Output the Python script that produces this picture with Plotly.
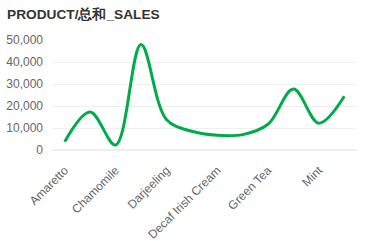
import plotly.graph_objects as go

categories = ["Amaretto", "Caffe Latte", "Chamomile", "Colombian", "Darjeeling",
              "Decaf Espresso", "Decaf Irish Cream", "Earl Grey", "Green Tea",
              "Lemon", "Mint", "Regular Espresso"]
sales = [3800, 17300, 2300, 47900, 13900, 8500, 6700, 7000, 11700, 27700, 12200, 24400]
y_ticks = [0, 10000, 20000, 30000, 40000, 50000]

fig = go.Figure(go.Scatter(
    x=categories, y=sales, mode="lines",
    line=dict(color="#00AB4A", width=3, shape="spline", smoothing=1.0),
    hoverinfo="x+y",
))

fig.update_layout(
    width=372, height=241,
    margin=dict(l=52, r=15, t=40, b=91, autoexpand=False),
    paper_bgcolor="white", plot_bgcolor="white",
    showlegend=False,
    title=dict(text="<b>PRODUCT/总和_SALES</b>", x=7 / 372, xref="container", xanchor="left",
               y=0.94, yref="container", yanchor="middle",
               font=dict(family="Liberation Sans, Arial", size=13.7, color="#333333"),
               pad=dict(l=0)),
    font=dict(family="Liberation Sans, Arial", size=12, color="#666666"),
)

fig.update_xaxes(
    type="category", categoryorder="array", categoryarray=categories,
    range=[-0.5, len(categories) - 0.5], automargin=False,
    tickmode="array", tickvals=categories[::2], ticktext=categories[::2],
    tickangle=-45, showgrid=False, showline=False, zeroline=False, ticks="",
    ticklabelstandoff=10,
    tickfont=dict(size=12, color="#666666"),
)
fig.update_yaxes(
    range=[0, 50000], tickmode="array", tickvals=y_ticks, automargin=False,
    ticktext=[f"{v:,}" for v in y_ticks],
    showgrid=True, gridcolor="#EFEFEF", gridwidth=1,
    zeroline=True, zerolinecolor="#EFEFEF", showline=False,
    ticks="", ticklabelstandoff=8,
    tickfont=dict(size=12, color="#666666"),
)

fig.write_html("out.html")
